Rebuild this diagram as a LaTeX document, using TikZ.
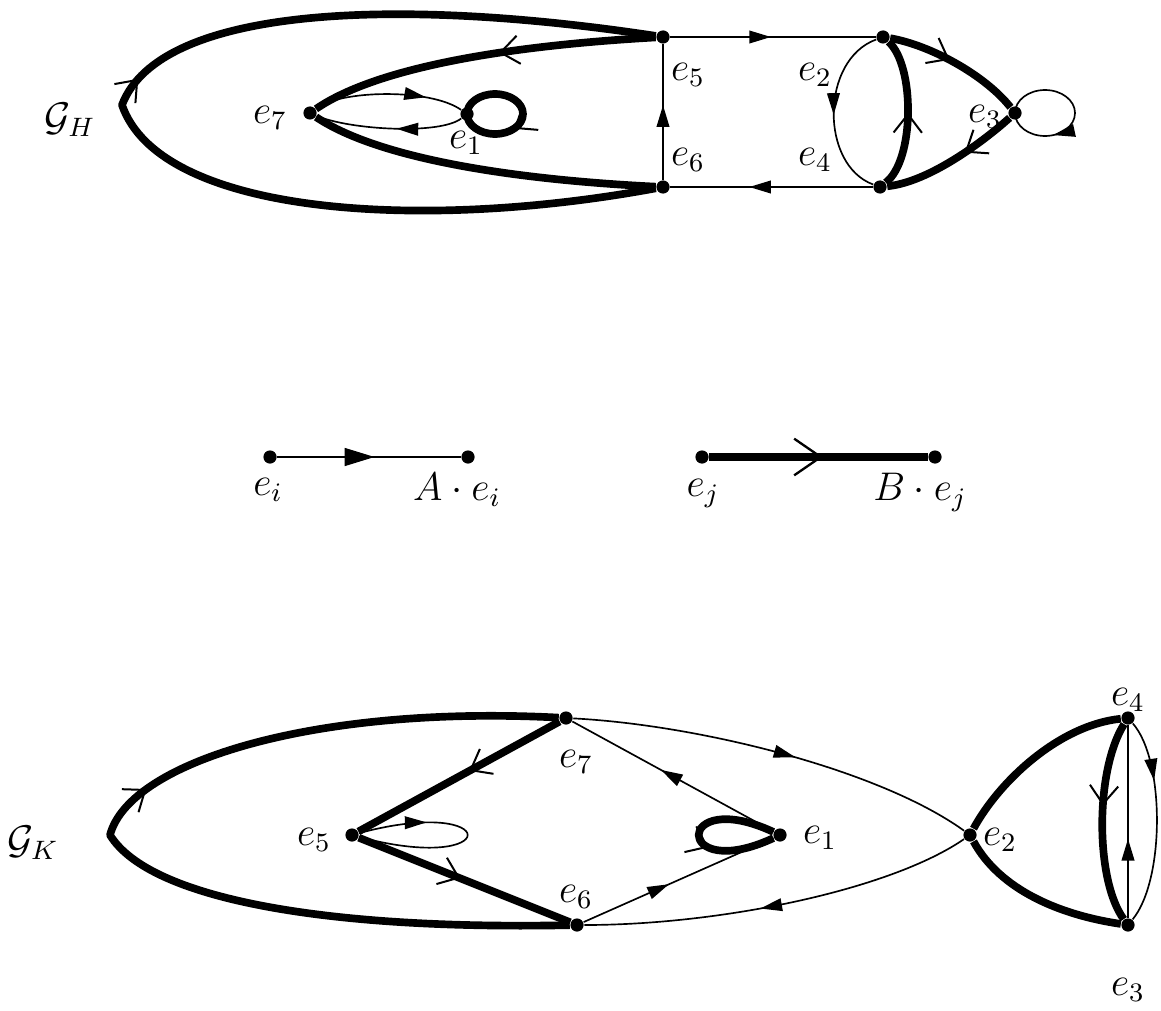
\documentclass[tikz,border=0pt]{standalone}
\usepackage{amsmath,amssymb}
\usetikzlibrary{arrows.meta,positioning,decorations.markings}
\tikzset{
  pont/.style={circle,fill,inner sep=1.4pt},
  vek/.style={line width=0.5pt},
  vast/.style={line width=2.3pt,line join=round},
  anyil/.style={postaction={decorate},decoration={markings,
    mark=at position #1 with {\arrow{Triangle[length=6.5pt,width=3.8pt]}}}},
  bnyil/.style={postaction={decorate},decoration={markings,
    mark=at position #1 with {\arrow{Straight Barb[length=5.5pt,width=8.5pt,line width=0.6pt]}}}},
  anagy/.style={postaction={decorate},decoration={markings,
    mark=at position #1 with {\arrow{Triangle[length=9pt,width=5.4pt]}}}},
  bnagy/.style={postaction={decorate},decoration={markings,
    mark=at position #1 with {\arrow{Straight Barb[length=8pt,width=11pt,line width=0.7pt]}}}},
}

\begin{document}
\begin{tikzpicture}[x=0.3pt,y=-0.3pt,font=\large]
  \useasboundingbox (0,0) rectangle (1161,1010);
  % upper graph
  \node (gH) at (70,120) {$\mathcal{G}_H$};
  \node[pont] (h7) at (310,113) {};
  \node[pont] (h1) at (467,114) {};
  \node[pont] (h5) at (663,37) {};
  \node[pont] (h6) at (663,187) {};
  \node[pont] (h2) at (883,37) {};
  \node[pont] (h4) at (880,187) {};
  \node[pont] (h3) at (1015,113) {};
  \coordinate (hL) at (122,105);
  \node (lh7) at (270,118) {$e_7$};
  \node (lh1) at (466,143) {$e_1$};
  \node (lh5) at (688,75) {$e_5$};
  \node (lh6) at (688,160) {$e_6$};
  \node (lh2) at (815,75) {$e_2$};
  \node (lh4) at (815,160) {$e_4$};
  \node (lh3) at (985,117) {$e_3$};
  % B edges
  \draw[vast,bnyil=0.53] (h6) .. controls (420,232) and (160,215) .. (hL)
    .. controls (160,5) and (400,-3) .. (h5);
  \draw[vast,bnyil=0.45] (h5) .. controls (520,45) and (380,65) .. (h7);
  \draw[vast] (h7) .. controls (380,160) and (520,180) .. (h6);
  \draw[vast,bnyil=0.62] (h1.center) arc[start angle=180,delta angle=360,x radius=28,y radius=20];
  \draw[vast,bnyil=0.5] (h4) .. controls (915,160) and (915,65) .. (h2);
  \draw[vast,bnyil=0.45] (h2) .. controls (930,45) and (985,75) .. (h3);
  \draw[vast,bnyil=0.4] (h3) .. controls (985,140) and (930,182) .. (h4);
  % A edges
  \draw[vek,anyil=0.55] (h6) -- (h5);
  \draw[vek,anyil=0.49] (h5) -- (h2);
  \draw[vek,anyil=0.61] (h4) -- (h6);
  \draw[vek,anyil=0.52] (h2) .. controls (820,60) and (820,165) .. (h4);
  \draw[vek,anyil=0.7] (h3.center) arc[start angle=180,delta angle=360,x radius=30,y radius=23];
  \draw[vek,anyil=0.75] (h7) .. controls (340,90) and (430,88) .. (h1);
  \draw[vek,anyil=0.45] (h1) .. controls (440,135) and (350,130) .. (h7);

  % legend
  \node[pont] (li) at (270,457) {};
  \node[pont] (lai) at (468,457) {};
  \node[pont] (lj) at (702,457) {};
  \node[pont] (lbj) at (935,457) {};
  \draw[vek,anagy=0.53] (li) -- (lai);
  \draw[vast,bnagy=0.52] (lj) -- (lbj);
  \node (tli) at (268,490) {$e_i$};
  \node (tlai) at (457,490) {$A\cdot e_i$};
  \node (tlj) at (703,493) {$e_j$};
  \node (tlbj) at (920,492) {$B\cdot e_j$};

  % lower graph
  \node (gK) at (33,843) {$\mathcal{G}_K$};
  \node[pont] (k7) at (566,718) {};
  \node[pont] (k6) at (577,925) {};
  \node[pont] (k5) at (352,835) {};
  \node[pont] (k1) at (780,835) {};
  \node[pont] (k2) at (970,835) {};
  \node[pont] (k4) at (1128,718) {};
  \node[pont] (k3) at (1128,925) {};
  \coordinate (kL) at (110,835);
  \node (lk7) at (576,762) {$e_7$};
  \node (lk6) at (576,897) {$e_6$};
  \node (lk5) at (314,840) {$e_5$};
  \node (lk1) at (820,838) {$e_1$};
  \node (lk2) at (1000,840) {$e_2$};
  \node (lk4) at (1128,700) {$e_4$};
  \node (lk3) at (1128,990) {$e_3$};
  % B edges
  \draw[vast,bnyil=0.56] (k6) .. controls (330,930) and (150,900) .. (kL)
    .. controls (130,760) and (320,705) .. (k7);
  \draw[vast,bnyil=0.45] (k7) -- (k5);
  \draw[vast,bnyil=0.48] (k5) -- (k6);
  \draw[vast,bnyil=0.6] (k1) to[out=155,in=205,distance=33pt] (k1);
  \draw[vast] (k2) .. controls (1000,780) and (1060,725) .. (k4);
  \draw[vast] (k2) .. controls (1000,890) and (1060,915) .. (k3);
  \draw[vast,bnyil=0.42] (k4) .. controls (1095,770) and (1095,880) .. (k3);
  % A edges
  \draw[vek,anyil=0.3] (k5) to[out=15,in=-15,distance=45pt] (k5);
  \draw[vek,anyil=0.55] (k7) .. controls (700,725) and (880,770) .. (k2);
  \draw[vek,anyil=0.55] (k2) .. controls (890,890) and (720,925) .. (k6);
  \draw[vek,anyil=0.56] (k1) -- (k7);
  \draw[vek,anyil=0.45] (k6) -- (k1);
  \draw[vek,anyil=0.41] (k3) -- (k4);
  \draw[vek,anyil=0.3] (k4) .. controls (1165,760) and (1165,880) .. (k3);
\end{tikzpicture}
\end{document}
